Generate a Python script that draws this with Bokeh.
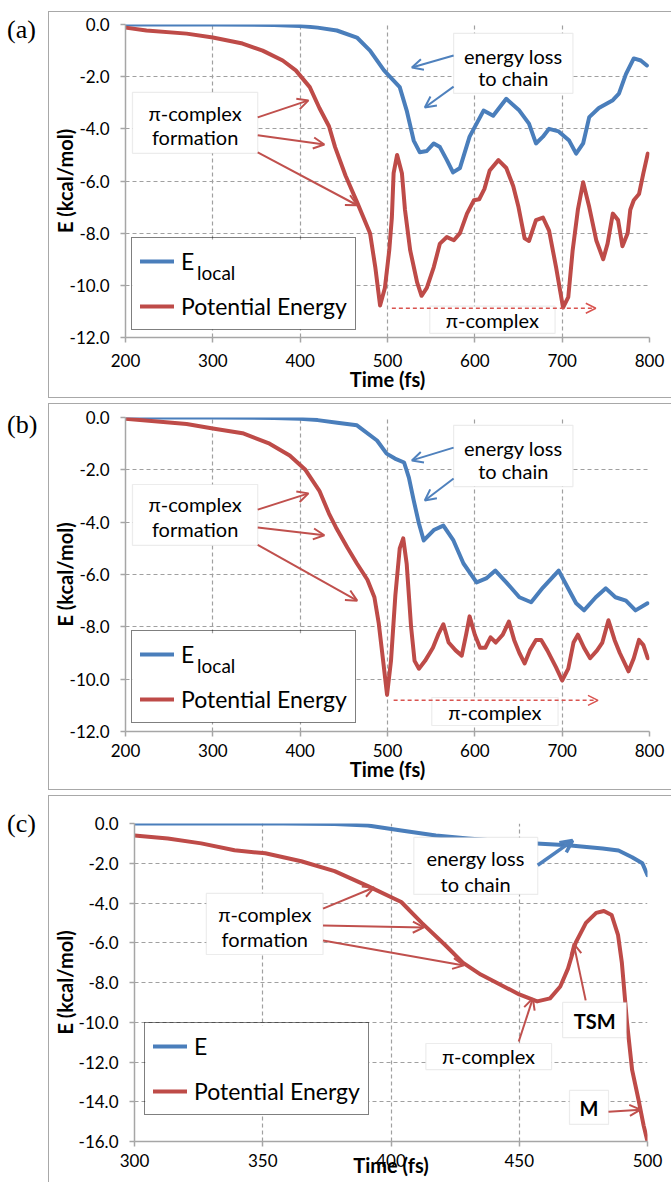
from bokeh.plotting import figure
from bokeh.layouts import row
from bokeh.models import (Range1d, FixedTicker, NumeralTickFormatter, Label, BoxAnnotation,
                          Arrow, OpenHead, Legend, LegendItem, Div, Spacer)
from bokeh.embed import file_html
from bokeh.resources import INLINE

# ---------------- data ----------------
A_BLUE_T = [200, 300, 370, 400, 420, 442, 465, 480, 496, 514, 522, 530, 537, 545, 553, 560, 568, 575,
            583, 594, 610, 621, 636, 651, 662, 670, 678, 685, 696, 708, 716, 724, 731, 742, 758, 765,
            773, 782, 790, 797]
A_BLUE_E = [0, 0, -0.02, -0.06, -0.12, -0.23, -0.5, -1.0, -1.76, -2.4, -3.3, -4.45, -4.9, -4.85, -4.56,
            -4.7, -5.2, -5.67, -5.5, -4.3, -3.3, -3.5, -2.85, -3.3, -3.8, -4.56, -4.3, -4.0, -4.1, -4.45,
            -4.95, -4.56, -3.55, -3.2, -2.9, -2.65, -1.9, -1.3, -1.38, -1.57]
A_RED_T = [200, 224, 270, 300, 334, 357, 380, 395, 411, 422, 433, 440, 452, 465, 480, 486, 491.5, 497,
           502, 505, 507, 511, 516.5, 520, 526, 534, 539, 545, 553, 560, 568, 576, 583, 591, 599, 605,
           611, 617, 627, 636, 644, 650, 657, 662, 670, 678, 685, 693, 701, 707, 712, 718, 724, 731,
           739, 747, 752, 758, 764, 769, 775, 778, 782, 788, 793, 798]
A_RED_E = [-0.12, -0.23, -0.35, -0.5, -0.73, -1.0, -1.38, -1.76, -2.4, -3.2, -3.9, -4.7, -5.8, -6.8,
           -8.0, -9.3, -10.77, -10.1, -8.66, -7.4, -5.7, -5.0, -5.7, -7.1, -8.66, -9.9, -10.4, -10.1,
           -9.3, -8.4, -8.15, -8.27, -8.0, -7.25, -6.74, -6.7, -6.3, -5.6, -5.2, -5.5, -6.2, -7.0,
           -8.2, -8.3, -7.5, -7.4, -7.9, -9.3, -10.85, -10.45, -8.66, -7.1, -6.05, -7.0, -8.27, -9.0,
           -8.4, -7.25, -7.5, -8.5, -8.0, -7.1, -6.74, -6.5, -5.7, -4.95]

B_BLUE_T = [200, 300, 370, 400, 420, 442.5, 465, 488, 499, 508.5, 519, 524.5, 530, 536, 541.5, 553,
            564, 575.5, 587, 602, 613, 623.5, 636, 651, 664.5, 678, 696, 708, 716, 725, 738.5, 750,
            761, 773, 784, 797.7]
B_BLUE_E = [0, 0, -0.02, -0.05, -0.1, -0.2, -0.3, -0.88, -1.38, -1.57, -1.72, -2.3, -3.17, -4.05,
            -4.7, -4.3, -4.13, -4.7, -5.58, -6.3, -6.15, -5.85, -6.3, -6.87, -7.06, -6.5, -5.85, -6.6,
            -7.1, -7.37, -6.87, -6.53, -6.87, -7.0, -7.37, -7.1]
B_RED_T = [200, 270, 300, 334, 365, 388, 406, 422, 433, 441, 454, 465, 477, 485, 490, 495, 499.5, 504,
           509, 514, 518, 522, 527, 531, 536, 543, 552, 558, 564, 570, 578, 585, 590, 594, 600, 606,
           612, 618, 624, 632, 639, 645, 651, 657, 663, 670, 676, 683, 693, 700, 707, 713, 718, 725,
           732, 740, 746, 753, 760, 766, 776, 782, 788, 793, 798]
B_RED_E = [-0.05, -0.25, -0.42, -0.6, -1.0, -1.45, -2.0, -2.8, -3.67, -4.2, -4.97, -5.58, -6.2, -6.87,
           -7.87, -9.3, -10.6, -9.3, -6.8, -5.0, -4.62, -5.6, -8.0, -9.3, -9.6, -9.3, -8.8, -8.3, -7.9,
           -8.6, -8.9, -9.1, -8.3, -7.6, -8.3, -8.8, -8.8, -8.4, -8.6, -8.3, -7.8, -8.5, -9.0, -9.4,
           -8.9, -8.5, -8.5, -8.9, -9.55, -10.05, -9.6, -8.6, -8.3, -8.8, -9.2, -8.9, -8.6, -7.75,
           -8.5, -9.0, -9.7, -9.2, -8.5, -8.7, -9.2]

C_BLUE_T = [300, 358, 378, 391, 404, 417.5, 430, 449.6, 469, 482.5, 488.7, 494, 498, 500]
C_BLUE_E = [0, 0, -0.03, -0.1, -0.35, -0.6, -0.75, -0.95, -1.1, -1.26, -1.36, -1.7, -2.0, -2.6]
C_RED_T = [300, 313, 326, 339, 351, 365, 378, 391, 404, 412, 421, 428, 435, 441, 450, 457, 462, 466,
           469, 472, 476, 480, 483, 486, 488.5, 490, 492, 494, 496.5, 498.5, 500]
C_RED_E = [-0.6, -0.75, -1.0, -1.35, -1.5, -1.9, -2.4, -3.15, -3.95, -5.0, -6.1, -7.0, -7.6, -8.0,
           -8.6, -8.95, -8.8, -8.2, -7.3, -6.0, -5.0, -4.5, -4.4, -4.6, -5.6, -7.0, -10.0, -12.4,
           -13.9, -15.2, -16.0]

X_TICKS_AB = [200, 300, 400, 500, 600, 700, 800]
X_TICKS_C = [300, 350, 400, 450, 500]
Y_TICKS_AB = [-12, -10, -8, -6, -4, -2, 0]
Y_TICKS_C = [-16, -14, -12, -10, -8, -6, -4, -2, 0]

# ---------------- style ----------------
FONT = "Lato"
BLUE = "#4A7EBB"
RED = "#BE4B48"
ARED = "#C0504D"
ABLUE = "#4F81BD"
GRID = "#A0A0A0"
AXIS = "#A6A6A6"
FIG_X = 49          # page x of the chart-area frame
FIG_W = 671 - FIG_X
LEG_W, LEG_H = 226, 91


def add_box(p, left, right, top, bottom, lines, ys, xc, bold=False):
    p.add_layout(BoxAnnotation(left=left, right=right, top=top, bottom=bottom,
                               fill_color="white", fill_alpha=1.0,
                               line_color="#BFBFBF", line_width=1.2))
    for t, y in zip(lines, ys):
        p.add_layout(Label(x=xc, y=y, text=t, text_align="center", text_baseline="middle",
                           text_font=FONT, text_font_size="20px", text_color="black",
                           text_font_style="bold" if bold else "normal"))


def add_arrow(p, x0, y0, x1, y1, color, width=2.0, dash="solid", size=11):
    p.add_layout(Arrow(end=OpenHead(size=size, line_color=color, line_width=width),
                       x_start=x0, y_start=y0, x_end=x1, y_end=y1,
                       line_color=color, line_width=width, line_dash=dash))


def make_panel(tag, tag_pad, fig_top, fig_h, frame, xr, yr, xticks, yticks,
               bt, be, rt, re_, legend_loc, x_lab_so, x_title_so, y_title_so, sub=None):
    fl, fr, ft, fb = frame
    p = figure(width=FIG_W, height=fig_h, x_range=Range1d(*xr), y_range=Range1d(*yr),
               output_backend="svg", toolbar_location=None,
               min_border_left=fl - FIG_X, min_border_right=671 - fr,
               min_border_top=ft - fig_top, min_border_bottom=fig_top + fig_h - fb,
               styles={"outline": "1.5px solid #A8A8A8"})
    p.outline_line_color = None

    def X(px):
        return xr[0] + (px - fl) * (xr[1] - xr[0]) / (fr - fl)

    def Y(py):
        return yr[1] - (py - ft) * (yr[1] - yr[0]) / (fb - ft)

    p.xaxis.ticker = FixedTicker(ticks=xticks)
    p.yaxis.ticker = FixedTicker(ticks=yticks)
    p.yaxis.formatter = NumeralTickFormatter(format="0.0")
    for g in (p.xgrid[0], p.ygrid[0]):
        g.grid_line_color = GRID
        g.grid_line_dash = "4 3"
        g.grid_line_width = 1.2
    for ax in (p.xaxis[0], p.yaxis[0]):
        ax.axis_line_color = AXIS
        ax.axis_line_width = 1.5
        ax.major_tick_line_color = AXIS
        ax.major_tick_line_width = 1.5
        ax.major_tick_out = 5
        ax.major_tick_in = 0
        ax.minor_tick_line_color = None
        ax.major_label_text_font = FONT
        ax.major_label_text_font_size = "17px"
        ax.major_label_text_color = "black"
        ax.axis_label_text_font = FONT
        ax.axis_label_text_font_size = "20px"
        ax.axis_label_text_font_style = "bold"
        ax.axis_label_text_color = "black"
    p.xaxis.axis_label = "Time (fs)"
    p.yaxis.axis_label = "E (kcal/mol)"
    p.xaxis.axis_label_text_align = "right"
    p.xaxis.major_label_standoff = x_lab_so
    p.xaxis.axis_label_standoff = x_title_so
    p.yaxis.major_label_standoff = 11
    p.yaxis.axis_label_standoff = y_title_so

    rb = p.line(bt, be, line_color=BLUE, line_width=4, line_join="round", line_cap="round")
    rr = p.line(rt, re_, line_color=RED, line_width=4, line_join="round", line_cap="round")

    # white backing of the legend box (legend itself is transparent so the subscript shows)
    lx0 = fl + legend_loc[0]
    ly1 = fb - legend_loc[1]
    p.add_layout(BoxAnnotation(left=X(lx0 + 1), right=X(lx0 + LEG_W - 1),
                               top=Y(ly1 - LEG_H + 1), bottom=Y(ly1 - 1),
                               fill_color="white", fill_alpha=1.0, line_alpha=0))
    if sub:
        p.add_layout(Label(x=X(lx0 + 66), y=Y(ly1 - LEG_H + 33), text=sub, text_align="left",
                           text_baseline="middle", text_font=FONT, text_font_size="19px",
                           text_color="black"))

    leg = Legend(items=[LegendItem(label="E", renderers=[rb]),
                        LegendItem(label="Potential Energy", renderers=[rr])],
                 location=legend_loc, orientation="vertical",
                 label_text_font=FONT, label_text_font_size="23px", label_text_color="black",
                 glyph_width=34, glyph_height=30, label_height=30, label_standoff=7,
                 padding=8, spacing=15, margin=0,
                 border_line_color="black", border_line_width=1.5,
                 background_fill_alpha=0.0)
    p.add_layout(leg)

    tag_div = Div(text=('<div style="font-family:\'Liberation Serif\',serif;font-size:26px;'
                        'line-height:28px;padding-left:7px;padding-top:%dpx;color:black;">%s</div>'
                        % (tag_pad, tag)),
                  width=FIG_X, height=fig_h, margin=(0, 0, 0, 0))
    return p, X, Y, row(tag_div, p, spacing=0)


# ---------- panel (a) ----------
pa, Xa, Ya, ra = make_panel("(a)", 4, 12, 385, (122, 649, 24, 337), (200, 800), (-12, 0),
                            X_TICKS_AB, Y_TICKS_AB, A_BLUE_T, A_BLUE_E, A_RED_T, A_RED_E,
                            (6, 7), 11, -3, -10, sub="local")
add_box(pa, 208, 351.4, -2.6, -4.94, ["π-complex", "formation"], [-3.41, -4.33], 279.7)
add_box(pa, 575.7, 712.3, -0.34, -2.64, ["energy loss", "to chain"], [-1.19, -2.07], 644)
add_box(pa, 548.4, 691.9, -10.8, -11.84, ["π-complex"], [-11.32], 620.1)
add_arrow(pa, 351.4, -3.56, 409.5, -2.91, ARED)
add_arrow(pa, 351.4, -4.25, 427.7, -4.6, ARED)
add_arrow(pa, 351.4, -4.9, 465.3, -6.93, ARED)
add_arrow(pa, 575.7, -1.19, 527.9, -1.65, ABLUE)
add_arrow(pa, 575.7, -2.38, 542.7, -3.18, ABLUE)
add_arrow(pa, 505, -10.88, 738.5, -10.88, "#D9534F", width=1.5, dash="4 3", size=10)

# ---------- panel (b) ----------
pb, Xb, Yb, rb_ = make_panel("(b)", 7, 404, 385, (122, 649, 417, 731), (200, 800), (-12, 0),
                             X_TICKS_AB, Y_TICKS_AB, B_BLUE_T, B_BLUE_E, B_RED_T, B_RED_E,
                             (6, 8), 7, -3, -10, sub="local")
add_box(pb, 208, 351.4, -2.56, -4.89, ["π-complex", "formation"], [-3.32, -4.28], 279.7)
add_box(pb, 575.7, 712.3, -0.3, -2.64, ["energy loss", "to chain"], [-1.15, -2.06], 644)
add_box(pb, 550.7, 695.3, -10.7, -11.77, ["π-complex"], [-11.25], 623)
add_arrow(pb, 351.4, -3.52, 409.5, -2.9, ARED)
add_arrow(pb, 351.4, -4.2, 427.7, -4.5, ARED)
add_arrow(pb, 351.4, -4.87, 465.3, -7.0, ARED)
add_arrow(pb, 575.7, -1.15, 527.9, -1.64, ABLUE)
add_arrow(pb, 575.7, -2.33, 542.7, -3.17, ABLUE)
add_arrow(pb, 507, -10.81, 741, -10.81, "#D9534F", width=1.5, dash="4 3", size=10)

# ---------- panel (c) ----------
pc, Xc, Yc, rc = make_panel("(c)", 14, 796, 386, (133, 647, 823, 1141), (300, 500), (-16, 0),
                            X_TICKS_C, Y_TICKS_C, C_BLUE_T, C_BLUE_E, C_RED_T, C_RED_E,
                            (10, 26), 7, -17, -1)
add_box(pc, 328, 373.5, -3.52, -6.59, ["π-complex", "formation"], [-4.53, -5.79], 350.8)
add_box(pc, 408.9, 457.2, -0.7, -3.57, ["energy loss", "to chain"], [-1.76, -3.02], 433)
add_box(pc, 413.6, 462.6, -11.07, -12.38, ["π-complex"], [-11.72], 438)
add_box(pc, 466.9, 491.8, -9.0, -10.77, ["TSM"], [-9.95], 479.4, bold=True)
add_box(pc, 469.6, 484.8, -13.43, -15.14, ["M"], [-14.3], 477.2, bold=True)
add_arrow(pc, 373.5, -4.28, 393.4, -3.22, ARED)
add_arrow(pc, 373.5, -5.13, 412.8, -5.23, ARED)
add_arrow(pc, 373.5, -5.89, 428.4, -7.14, ARED)
add_arrow(pc, 449.8, -10.97, 455.3, -8.8, ARED)
add_arrow(pc, 475.9, -8.9, 471.2, -6.04, ARED)
add_arrow(pc, 484.8, -14.5, 497.3, -14.4, ARED)
add_arrow(pc, 457.2, -2.1, 470.8, -0.86, ABLUE, width=3.5, size=12)

roots = [Spacer(width=671, height=12), ra, Spacer(width=671, height=7), rb_,
         Spacer(width=671, height=7), rc]
open("out.html", "w").write(file_html(roots, INLINE))
